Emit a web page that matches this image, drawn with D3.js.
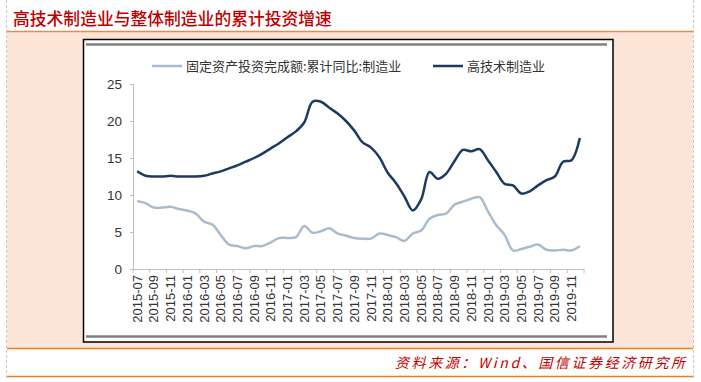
<!DOCTYPE html>
<html>
<head>
<meta charset="utf-8">
<script src="https://cdn.jsdelivr.net/npm/d3@7/dist/d3.min.js"></script>
<style>
  html, body { margin: 0; padding: 0; background: #ffffff; }
  svg { display: block; }
</style>
</head>
<body>
<svg id="chart" width="701" height="382"></svg>
<script>
// ---------- data ----------
const title = "高技术制造业与整体制造业的累计投资增速";
const source = "资料来源：Wind、国信证券经济研究所";
const seriesNames = ["固定资产投资完成额:累计同比:制造业", "高技术制造业"];

const months = [
  "2015-07","2015-08","2015-09","2015-10","2015-11","2015-12",
  "2016-01","2016-02","2016-03","2016-04","2016-05","2016-06","2016-07","2016-08","2016-09","2016-10","2016-11","2016-12",
  "2017-01","2017-02","2017-03","2017-04","2017-05","2017-06","2017-07","2017-08","2017-09","2017-10","2017-11","2017-12",
  "2018-01","2018-02","2018-03","2018-04","2018-05","2018-06","2018-07","2018-08","2018-09","2018-10","2018-11","2018-12",
  "2019-01","2019-02","2019-03","2019-04","2019-05","2019-06","2019-07","2019-08","2019-09","2019-10","2019-11","2019-12"
];

const manufacturing = [
  9.2, 8.9, 8.3, 8.3, 8.4, 8.1,
  7.9, 7.5, 6.4, 6.0, 4.6, 3.3, 3.1, 2.8, 3.1, 3.1, 3.6, 4.2,
  4.2, 4.3, 5.8, 4.9, 5.1, 5.5, 4.8, 4.5, 4.2, 4.1, 4.1, 4.8,
  4.6, 4.3, 3.8, 4.8, 5.2, 6.8, 7.3, 7.5, 8.7, 9.1, 9.5, 9.7,
  7.8, 5.9, 4.6, 2.5, 2.7, 3.0, 3.3, 2.6, 2.5, 2.6, 2.5, 3.1
];

const highTech = [
  13.2, 12.6, 12.5, 12.5, 12.6, 12.5,
  12.5, 12.5, 12.6, 12.9, 13.2, 13.6, 14.0, 14.5, 15.0, 15.6, 16.3, 17.0,
  17.8, 18.6, 19.8, 22.6, 22.6, 21.8, 21.0, 20.0, 18.7, 17.1, 16.4, 15.1,
  13.0, 11.6, 9.8, 7.9, 9.4, 13.1, 12.2, 12.9, 14.6, 16.1, 15.9, 16.2,
  14.7, 13.1, 11.5, 11.3, 10.2, 10.5, 11.3, 12.0, 12.5, 14.5, 14.7, 17.7
];

const yTicks = [0, 5, 10, 15, 20, 25];
const xTickLabels = months.filter((d, i) => i % 2 === 0);

// ---------- layout ----------
const svg = d3.select("#chart");
const W = 701, H = 382;

// page frame
svg.append("rect").attr("x", 7).attr("y", 32).attr("width", 686).attr("height", 316)
  .attr("fill", "#fce4d6");
svg.append("line").attr("x1", 6.5).attr("x2", 6.5).attr("y1", 0).attr("y2", 378)
  .attr("stroke", "#c8c8c8").attr("stroke-width", 1).attr("stroke-dasharray", "3,2");
svg.append("line").attr("x1", 693.5).attr("x2", 693.5).attr("y1", 0).attr("y2", 378)
  .attr("stroke", "#c8c8c8").attr("stroke-width", 1).attr("stroke-dasharray", "3,2");
svg.append("line").attr("x1", 7).attr("x2", 693).attr("y1", 31.5).attr("y2", 31.5)
  .attr("stroke", "#e8894f").attr("stroke-width", 1.5);
svg.append("line").attr("x1", 7).attr("x2", 693).attr("y1", 348.5).attr("y2", 348.5)
  .attr("stroke", "#f07c22").attr("stroke-width", 1.5);
svg.append("line").attr("x1", 7).attr("x2", 693).attr("y1", 376.5).attr("y2", 376.5)
  .attr("stroke", "#f07c22").attr("stroke-width", 1.5);

svg.append("text").attr("x", 13).attr("y", 25)
  .attr("font-family", "'Noto Sans CJK SC', sans-serif").attr("font-size", 16.8)
  .attr("font-weight", 500).attr("fill", "#c00000").text(title);

svg.append("text").attr("x", 395).attr("y", 368)
  .attr("font-family", "'Noto Sans CJK SC', sans-serif").attr("font-size", 14)
  .attr("font-style", "italic").attr("fill", "#c00000")
  .attr("textLength", 290).attr("lengthAdjust", "spacing")
  .text(source);

// chart box
svg.append("rect").attr("x", 83.5).attr("y", 39.5).attr("width", 529.5).attr("height", 302.5)
  .attr("fill", "#ffffff").attr("stroke", "#000000").attr("stroke-width", 1.5);
svg.append("line").attr("x1", 86).attr("x2", 607).attr("y1", 44.5).attr("y2", 44.5)
  .attr("stroke", "#7f7f7f").attr("stroke-width", 2.5);
svg.append("line").attr("x1", 86).attr("x2", 607).attr("y1", 336.5).attr("y2", 336.5)
  .attr("stroke", "#7f7f7f").attr("stroke-width", 2.5);

// scales
const x = d3.scaleBand().domain(months).range([133, 584]).paddingInner(0).paddingOuter(0);
const y = d3.scaleLinear().domain([0, 25]).range([269, 84]);
const cx = d => x(d) + x.bandwidth() / 2;

const axisColor = "#bfbfbf";
const labelFont = "'Liberation Sans', Arial, sans-serif";

// y axis
const yAxis = svg.append("g").attr("transform", "translate(133,0)")
  .call(d3.axisLeft(y).tickValues(yTicks).tickSize(3).tickPadding(8).tickFormat(d3.format("d")));
yAxis.select(".domain").attr("stroke", axisColor);
yAxis.selectAll(".tick line").attr("stroke", axisColor);
yAxis.selectAll(".tick text").attr("font-family", labelFont).attr("font-size", 13.5).attr("fill", "#333");

// x axis
const xAxis = svg.append("g").attr("transform", "translate(0,269)")
  .call(d3.axisBottom(x).tickValues(xTickLabels).tickSize(0).tickSizeOuter(0));
xAxis.select(".domain").attr("stroke", axisColor);
xAxis.selectAll(".tick text")
  .attr("font-family", labelFont).attr("font-size", 13).attr("fill", "#333")
  .attr("transform", "rotate(-90)").attr("text-anchor", "end")
  .attr("x", -6).attr("y", 0).attr("dy", "0.35em");
// boundary tick marks every two months
const boundaries = months.filter((d, i) => i % 2 === 0).map(d => x(d)).concat([x.range()[1]]);
svg.append("g").selectAll("line").data(boundaries).join("line")
  .attr("x1", d => d).attr("x2", d => d).attr("y1", 269).attr("y2", 273)
  .attr("stroke", axisColor).attr("stroke-width", 1);

// lines
const line = d3.line().x((d, i) => cx(months[i])).y(d => y(d)).curve(d3.curveCatmullRom.alpha(0.5));
svg.append("path").datum(manufacturing).attr("d", line)
  .attr("fill", "none").attr("stroke", "#a9bccf").attr("stroke-width", 2.5).attr("stroke-linejoin", "round");
svg.append("path").datum(highTech).attr("d", line)
  .attr("fill", "none").attr("stroke", "#1f3a62").attr("stroke-width", 2.5).attr("stroke-linejoin", "round");

// legend
const legend = [
  { name: seriesNames[0], color: "#a9bccf", x: 152 },
  { name: seriesNames[1], color: "#1f3a62", x: 433 }
];
const lg = svg.append("g");
legend.forEach(l => {
  lg.append("line").attr("x1", l.x).attr("x2", l.x + 30).attr("y1", 66).attr("y2", 66)
    .attr("stroke", l.color).attr("stroke-width", 2.5);
  lg.append("text").attr("x", l.x + 34).attr("y", 70.5)
    .attr("font-family", "'Noto Sans CJK SC', sans-serif").attr("font-size", 13)
    .attr("fill", "#333").text(l.name);
});
</script>
</body>
</html>
